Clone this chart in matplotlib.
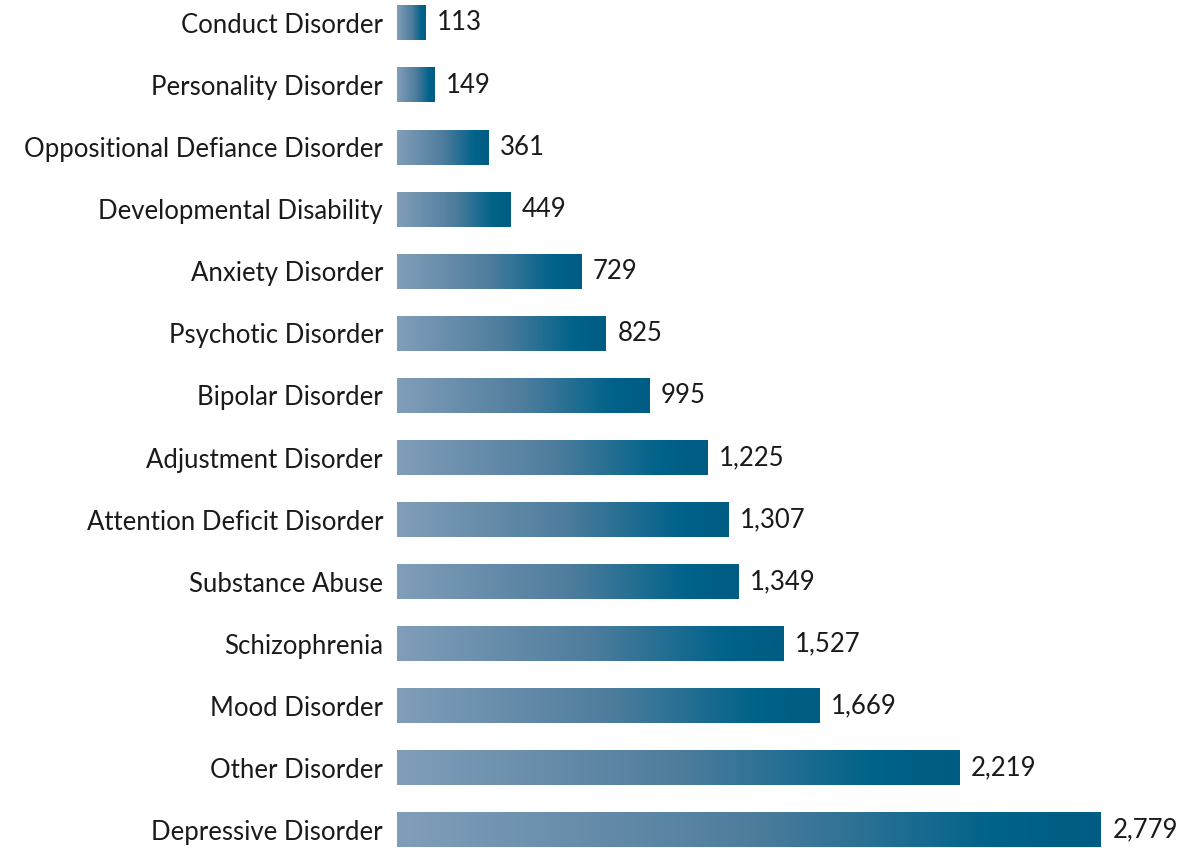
import matplotlib
matplotlib.use("Agg")
import matplotlib.pyplot as plt
import numpy as np
from matplotlib.colors import LinearSegmentedColormap

categories = ["Conduct Disorder", "Personality Disorder", "Oppositional Defiance Disorder",
              "Developmental Disability", "Anxiety Disorder", "Psychotic Disorder",
              "Bipolar Disorder", "Adjustment Disorder", "Attention Deficit Disorder",
              "Substance Abuse", "Schizophrenia", "Mood Disorder", "Other Disorder",
              "Depressive Disorder"]
values = [113, 149, 361, 449, 729, 825, 995, 1225, 1307, 1349, 1527, 1669, 2219, 2779]

plt.rcParams['font.family'] = ['Lato', 'DejaVu Sans']

fig = plt.figure(figsize=(11.86, 8.48), dpi=100)
ax = fig.add_axes([397 / 1186, 0, 1 - 397 / 1186, 1])

cmap = LinearSegmentedColormap.from_list(
    "grad", [(0, "#819eb9"), (0.5, "#4f7d9d"), (0.85, "#00628a"), (1, "#005c82")])
grad = np.linspace(0, 1, 256).reshape(1, -1)

h = 0.56
for i, (c, v) in enumerate(zip(categories, values)):
    ax.imshow(grad, extent=[0, v, i + h / 2, i - h / 2], cmap=cmap,
              aspect="auto", interpolation="bilinear", zorder=2)
    ax.text(v + 45, i, f"{v:,}", va="center", ha="left", fontsize=18.5, color="#1a1a1a")

ax.set_xlim(0, 789 / 0.2533)
ax.set_ylim(13.29, -0.37)
ax.set_yticks(range(len(categories)))
ax.set_yticklabels(categories, fontsize=18.5, color="#1a1a1a")
ax.tick_params(axis="y", length=0, pad=10)
ax.set_xticks([])
for s in ax.spines.values():
    s.set_visible(False)

fig.savefig("out.png", dpi=100)
